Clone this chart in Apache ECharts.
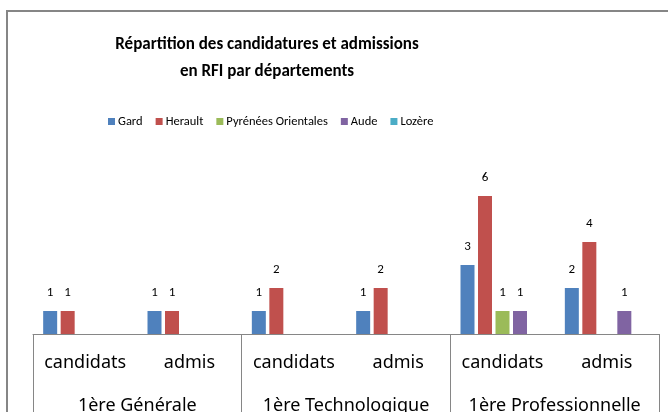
<!DOCTYPE html>
<html>
<head>
<meta charset="utf-8">
<script src="https://cdn.jsdelivr.net/npm/echarts@6/dist/echarts.min.js"></script>
<style>
  html, body { margin: 0; padding: 0; background: #fff; }
  #chart { width: 668px; height: 412px; }
</style>
</head>
<body>
<div id="chart"></div>
<script>
// Categories: sub-level (application stage) and top level (class type)
const subCategories = ['candidats', 'admis', 'candidats', 'admis', 'candidats', 'admis'];
const groupCategories = ['1ère Générale', '1ère Technologique', '1ère Professionnelle'];

// Counts per département (null = no value)
const gard = [1, 1, 1, 1, 3, 2];
const herault = [1, 1, 2, 2, 6, 4];
const pyreneesOrientales = [null, null, null, null, 1, null];
const aude = [null, null, null, null, 1, 1];
const lozere = [null, null, null, null, null, null];

const seriesNames = ['Gard', 'Herault', 'Pyrénées Orientales', 'Aude', 'Lozère'];
const seriesValues = [gard, herault, pyreneesOrientales, aude, lozere];
const seriesColors = ['#4F81BD', '#C0504D', '#9BBB59', '#8064A2', '#4BACC6'];

const FONT = 'Carlito, Lato, sans-serif';
const AXIS_FONT = '"Noto Sans", sans-serif';
const GRAY = '#868686';

const chart = echarts.init(document.getElementById('chart'), null, { renderer: 'canvas' });

chart.setOption({
  animation: false,
  textStyle: { fontFamily: FONT },
  graphic: [
    {
      type: 'rect',
      shape: { x: 7, y: 11, width: 720, height: 500 },
      style: { fill: 'none', stroke: GRAY, lineWidth: 2 },
      silent: true,
      z: -1
    },
    {
      type: 'text',
      x: 267,
      y: 45,
      style: {
        text: 'Répartition des candidatures et admissions',
        fontFamily: FONT, fontSize: 17, fontWeight: 'bold', fill: '#000',
        textAlign: 'center', textVerticalAlign: 'middle'
      }
    },
    {
      type: 'text',
      x: 267,
      y: 72,
      style: {
        text: 'en RFI par départements',
        fontFamily: FONT, fontSize: 17, fontWeight: 'bold', fill: '#000',
        textAlign: 'center', textVerticalAlign: 'middle'
      }
    }
  ],
  legend: {
    data: seriesNames,
    left: 103,
    top: 110,
    itemWidth: 7,
    itemHeight: 7,
    itemGap: 13,
    icon: 'rect',
    textStyle: { fontFamily: FONT, fontSize: 12.5, color: '#000', padding: [0, 0, 0, -2] }
  },
  grid: { left: 33, right: 9, top: 150, bottom: 78, containLabel: false, outerBoundsMode: 'none' },
  xAxis: [
    {
      type: 'category',
      data: subCategories,
      axisLine: { show: true, lineStyle: { color: GRAY, width: 1 } },
      axisTick: { show: false },
      axisLabel: { margin: 20, fontSize: 18, color: '#000', fontFamily: AXIS_FONT, interval: 0 }
    },
    {
      type: 'category',
      data: groupCategories,
      position: 'bottom',
      axisLine: { show: false },
      axisTick: { show: true, length: 90, lineStyle: { color: GRAY, width: 1 } },
      axisLabel: { margin: 63, fontSize: 18, color: '#000', fontFamily: AXIS_FONT, interval: 0 }
    }
  ],
  yAxis: {
    type: 'value',
    min: 0,
    max: 8,
    show: false,
    splitLine: { show: false }
  },
  series: seriesNames.map((name, i) => ({
    name: name,
    type: 'bar',
    xAxisIndex: 0,
    data: seriesValues[i],
    barWidth: 14,
    barGap: '25%',
    itemStyle: { color: seriesColors[i] },
    label: {
      show: true,
      position: 'top',
      distance: 12,
      fontSize: 13,
      color: '#000',
      fontFamily: FONT
    }
  }))
});
</script>
</body>
</html>
